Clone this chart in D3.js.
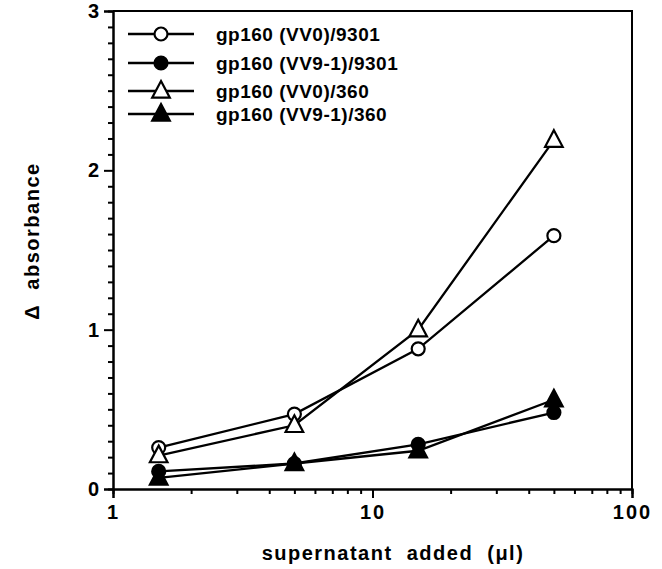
<!DOCTYPE html>
<html>
<head>
<meta charset="utf-8">
<script src="https://cdn.jsdelivr.net/npm/d3@7"></script>
<style>
  html, body { margin: 0; padding: 0; background: #fff; }
  svg { display: block; }
  text { font-family: "Liberation Sans", Arial, Helvetica, sans-serif; font-weight: bold; fill: #000; }
</style>
</head>
<body>
<svg id="chart" width="662" height="569"></svg>
<script>
// ---- data ----
const volumes = [1.5, 5, 15, 50];
const seriesNames = ["gp160 (VV0)/9301", "gp160 (VV9-1)/9301", "gp160 (VV0)/360", "gp160 (VV9-1)/360"];
const vv0_9301   = [0.26, 0.47, 0.88, 1.59];
const vv91_9301  = [0.11, 0.16, 0.28, 0.48];
const vv0_360    = [0.21, 0.40, 1.00, 2.19];
const vv91_360   = [0.07, 0.16, 0.24, 0.56];
const xTickValues = [1, 10, 100];
const yTickValues = [0, 1, 2, 3];
const xLabel = "supernatant  added  (\u03bcl)";
const yLabel = "\u0394  absorbance";

(function () {
const series = [
  { name: seriesNames[0], values: vv0_9301, shape: "circle",   filled: false },
  { name: seriesNames[1], values: vv91_9301, shape: "circle",  filled: true },
  { name: seriesNames[2], values: vv0_360,  shape: "triangle", filled: false },
  { name: seriesNames[3], values: vv91_360, shape: "triangle", filled: true }
];

// ---- layout ----
const svg = d3.select("#chart");
const mLeft = 113, mRight = 632, mTop = 11, mBottom = 489;

const x = d3.scaleLog().domain([1, 100]).range([mLeft, mRight]);
const y = d3.scaleLinear().domain([0, 3]).range([mBottom, mTop]);

// frame (top and right)
svg.append("path")
  .attr("d", `M${mLeft},${mTop}H${mRight}V${mBottom}`)
  .attr("fill", "none").attr("stroke", "#000").attr("stroke-width", 2);

// x axis
const xMinor = [];
for (let d = 1; d < 100; d *= 10) for (let k = 2; k <= 9; k++) xMinor.push(d * k);
const xAxisG = svg.append("g").attr("transform", `translate(0,${mBottom})`);
xAxisG.append("g").call(d3.axisBottom(x).tickValues(xMinor).tickSize(5).tickFormat(""));
xAxisG.append("g").call(d3.axisBottom(x).tickValues(xTickValues).tickSize(9).tickPadding(7).tickFormat(d3.format("d")));
xAxisG.selectAll("path.domain").attr("stroke-width", 2).attr("stroke", "#000");
xAxisG.selectAll(".tick line").attr("stroke-width", 2).attr("stroke", "#000");
xAxisG.selectAll(".tick text").attr("font-size", 20).attr("letter-spacing", 2)
  .attr("font-family", "Liberation Sans, Arial, sans-serif").attr("font-weight", "bold").attr("fill", "#000");

// y axis
const yMinor = d3.range(0, 30).filter(i => i % 10 !== 0).map(i => i / 10);
const yAxisG = svg.append("g").attr("transform", `translate(${mLeft},0)`);
yAxisG.append("g").call(d3.axisLeft(y).tickValues(yMinor).tickSize(5).tickFormat(""));
yAxisG.append("g").call(d3.axisLeft(y).tickValues(yTickValues).tickSize(9).tickPadding(5).tickFormat(d3.format("d")));
yAxisG.selectAll("path.domain").attr("stroke-width", 2).attr("stroke", "#000");
yAxisG.selectAll(".tick line").attr("stroke-width", 2).attr("stroke", "#000");
yAxisG.selectAll(".tick text").attr("font-size", 20)
  .attr("font-family", "Liberation Sans, Arial, sans-serif").attr("font-weight", "bold").attr("fill", "#000");

// axis labels
svg.append("text")
  .attr("x", 393).attr("y", 560)
  .attr("text-anchor", "middle").attr("font-size", 20).attr("letter-spacing", 1.5)
  .style("white-space", "pre")
  .text(xLabel);
svg.append("text")
  .attr("transform", `translate(39,241) rotate(-90)`)
  .attr("text-anchor", "middle").attr("font-size", 20).attr("letter-spacing", 1.5)
  .style("white-space", "pre")
  .text(yLabel);

// markers
const triPath = (s) => `M0,${-s * 0.62}L${s * 0.55},${s * 0.42}L${-s * 0.55},${s * 0.42}Z`;
function drawMarker(g, shape, filled) {
  if (shape === "circle") {
    g.append("circle").attr("r", 6.5)
      .attr("fill", filled ? "#000" : "#fff").attr("stroke", "#000").attr("stroke-width", 2.2);
  } else {
    g.append("path").attr("d", triPath(16))
      .attr("fill", filled ? "#000" : "#fff").attr("stroke", "#000").attr("stroke-width", 2.2)
      .attr("stroke-linejoin", "miter");
  }
}

const line = d3.line().x(d => x(d[0])).y(d => y(d[1]));
series.forEach(s => {
  const pts = volumes.map((v, i) => [v, s.values[i]]);
  svg.append("path").attr("d", line(pts))
    .attr("fill", "none").attr("stroke", "#000").attr("stroke-width", 2.3);
});
series.forEach(s => {
  volumes.forEach((v, i) => {
    const g = svg.append("g").attr("transform", `translate(${x(v)},${y(s.values[i])})`);
    drawMarker(g, s.shape, s.filled);
  });
});

// legend
const legendRowsY = [34, 63, 91, 114];
series.forEach((s, i) => {
  const ly = legendRowsY[i];
  svg.append("line").attr("x1", 128).attr("x2", 194).attr("y1", ly).attr("y2", ly)
    .attr("stroke", "#000").attr("stroke-width", 2.3);
  const g = svg.append("g").attr("transform", `translate(161,${ly})`);
  drawMarker(g, s.shape, s.filled);
  svg.append("text").attr("x", 216).attr("y", ly + 7).attr("font-size", 19)
    .attr("letter-spacing", 0.5).text(s.name);
});
})();
</script>
</body>
</html>
